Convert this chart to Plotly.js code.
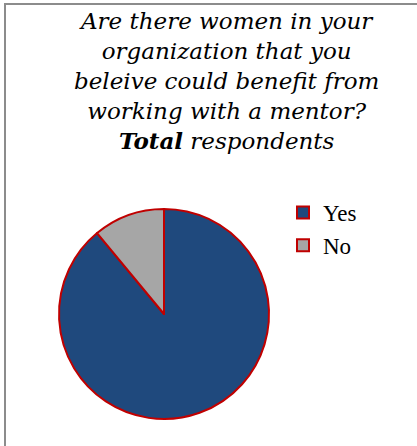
<!DOCTYPE html>
<html>
<head>
<meta charset="utf-8">
<script src="https://cdn.plot.ly/plotly-3.0.1.min.js"></script>
<style>
  html, body { margin: 0; padding: 0; background: #ffffff; overflow: hidden; }
  #frame { position: absolute; left: 4px; top: 3px; width: 500px; height: 500px; border: 2px solid #8c8c8c; box-sizing: border-box; }
  #chart { position: absolute; left: 0; top: 0; width: 417px; height: 446px; }
</style>
</head>
<body>
<div id="frame"></div>
<div id="chart"></div>
<script>
const categories = ["Yes", "No"];
const values = [89, 11];
const colors = ["#1F497D", "#A6A6A6"];

const titleLines = [
  "<i>Are there women in your</i>",
  "<i>organization that you</i>",
  "<i>beleive could benefit from</i>",
  "<i>working with a mentor?</i>",
  "<b><i>Total</i></b><i> respondents</i>"
];

const W = 417, H = 446;
const data = [{
  type: "pie",
  labels: categories,
  values: values,
  sort: false,
  direction: "clockwise",
  rotation: 0,
  textinfo: "none",
  hoverinfo: "label+percent",
  marker: { colors: colors, line: { color: "#C00000", width: 2 } },
  domain: { x: [59 / W, 269 / W], y: [27 / H, 237 / H] }
}];

const layout = {
  width: W, height: H,
  margin: { l: 0, r: 0, t: 0, b: 0 },
  paper_bgcolor: "rgba(0,0,0,0)",
  plot_bgcolor: "rgba(0,0,0,0)",
  showlegend: true,
  legend: {
    x: 283 / W, y: 1 - 191 / H, xanchor: "left", yanchor: "top",
    font: { family: "Liberation Serif, Times New Roman, serif", size: 23, color: "#000000" },
    bgcolor: "rgba(0,0,0,0)"
  },
  annotations: [{
    text: titleLines.join("<br>"),
    x: 227 / W, y: 1 - 6 / H, xref: "paper", yref: "paper",
    xanchor: "center", yanchor: "top", showarrow: false, align: "center",
    font: { family: "DejaVu Serif, serif", size: 23, color: "#000000" }
  }]
};

Plotly.newPlot("chart", data, layout, { displayModeBar: false, staticPlot: true });
</script>
</body>
</html>
